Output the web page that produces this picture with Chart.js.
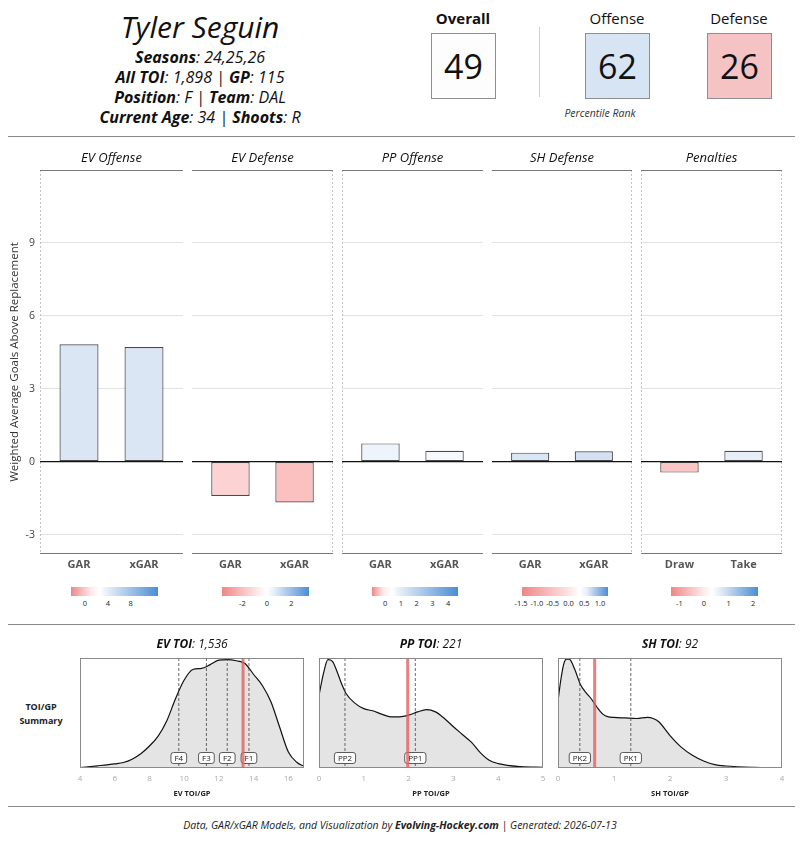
<!DOCTYPE html>
<html>
<head>
<meta charset="utf-8">
<script src="https://cdn.jsdelivr.net/npm/chart.js@4.4.1/dist/chart.umd.min.js"></script>
<style>
  body { margin: 0; background: #fff; font-family: "Open Sans", sans-serif; color: #111; }
  #page { position: relative; width: 800px; height: 850px; overflow: hidden; }
  .abs { position: absolute; }
  canvas { position: absolute; }
  .hline { position: absolute; left: 8px; width: 787px; height: 1px; background: #8a8a8a; }
  #info { left: 0; width: 400px; text-align: center; }
  #info .name { font-size: 30px; font-style: italic; line-height: 34px; margin-top: 10px; margin-bottom: 3px; }
  #info .ln { font-size: 16px; font-style: italic; line-height: 20px; }
  #info b { font-weight: 700; }
  .scoreLbl { top: 8px; width: 100px; text-align: center; font-size: 15px; line-height: 20px; }
  .scoreBox { top: 33px; width: 63px; height: 64px; border: 1px solid #8e8e8e; text-align: center;
              font-size: 34px; line-height: 64px; }
  .cb { top: 587px; height: 9px; }
  .cbt { top: 598px; font-size: 7.5px; color: #222; transform: translateX(-50%); white-space: nowrap; }
  #footer { top: 818px; left: 0; width: 800px; text-align: center; font-size: 10.5px; font-style: italic; color: #222; }
  #sumLbl { left: 14px; top: 700px; width: 54px; text-align: center; font-size: 9px; font-weight: 700; line-height: 14px; color: #222; }
</style>
</head>
<body>
<div id="page">
  <div id="info" class="abs"></div>
  <div id="scores"></div>
  <div class="abs" style="left:539px;top:27px;width:1px;height:70px;background:#cfcfcf"></div>
  <div class="abs" style="left:540px;top:106px;width:120px;text-align:center;font-size:10.5px;font-style:italic;color:#333">Percentile Rank</div>
  <div class="hline" style="top:136px"></div>

  <canvas id="bar0"></canvas>
  <canvas id="bar1"></canvas>
  <canvas id="bar2"></canvas>
  <canvas id="bar3"></canvas>
  <canvas id="bar4"></canvas>
  <div id="colorbars"></div>

  <div class="hline" style="top:624px"></div>
  <div id="sumLbl" class="abs">TOI/GP<br>Summary</div>
  <canvas id="dens0"></canvas>
  <canvas id="dens1"></canvas>
  <canvas id="dens2"></canvas>

  <div class="hline" style="top:806px"></div>
  <div id="footer" class="abs">Data, GAR/xGAR Models, and Visualization by <b>Evolving-Hockey.com</b> | Generated: 2026-07-13</div>
</div>

<script>
// ---- header data ----
const playerName = "Tyler Seguin";
const infoLines = [
  [["Seasons", ": 24,25,26"]],
  [["All TOI", ": 1,898 | "], ["GP", ": 115"]],
  [["Position", ": F | "], ["Team", ": DAL"]],
  [["Current Age", ": 34 | "], ["Shoots", ": R"]]
];
const scoreLabels = ["Overall", "Offense", "Defense"];
const scoreValues = [49, 62, 26];

// ---- GAR panels ----
const panelTitles = ["EV Offense", "EV Defense", "PP Offense", "SH Defense", "Penalties"];
const barLabels = [["GAR", "xGAR"], ["GAR", "xGAR"], ["GAR", "xGAR"], ["GAR", "xGAR"], ["Draw", "Take"]];
const evOffense = [4.83, 4.72];
const evDefense = [-1.41, -1.68];
const ppOffense = [0.75, 0.45];
const shDefense = [0.37, 0.43];
const penalties = [-0.45, 0.45];
const yTicks = [-3, 0, 3, 6, 9];

// colour-bar legends under each panel
const cbTicks = [[0, 4, 8], [-2, 0, 2], [0, 1, 2, 3, 4], [-1.5, -1.0, -0.5, 0.0, 0.5, 1.0], [-1, 0, 1, 2]];
const cbTickText = [["0", "4", "8"], ["-2", "0", "2"], ["0", "1", "2", "3", "4"],
                    ["-1.5", "-1.0", "-0.5", "0.0", "0.5", "1.0"], ["-1", "0", "1", "2"]];

// ---- TOI/GP density panels ----
const densTitles = [["EV TOI", ": 1,536"], ["PP TOI", ": 221"], ["SH TOI", ": 92"]];
const densAxisTitles = ["EV TOI/GP", "PP TOI/GP", "SH TOI/GP"];
const evX = [4, 5, 6, 6.5, 7, 7.5, 8, 8.5, 9, 9.5, 10, 10.5, 11, 11.5, 12, 12.5, 13, 13.5, 14, 14.5, 15, 15.5, 16, 16.5, 16.9];
const evY = [0.004, 0.02, 0.038, 0.05, 0.08, 0.13, 0.2, 0.29, 0.43, 0.63, 0.8, 0.895, 0.905, 0.94, 0.98, 0.985, 0.975, 0.95, 0.85, 0.75, 0.6, 0.37, 0.145, 0.05, 0.015];
const ppX = [0, 0.1, 0.2, 0.3, 0.4, 0.5, 0.6, 0.8, 1.0, 1.2, 1.4, 1.6, 1.8, 2.0, 2.2, 2.4, 2.6, 2.8, 3.0, 3.2, 3.4, 3.6, 3.8, 4.0, 4.5, 5.0];
const ppY = [0.66, 0.86, 0.985, 0.97, 0.88, 0.77, 0.68, 0.59, 0.54, 0.52, 0.49, 0.465, 0.465, 0.48, 0.51, 0.53, 0.51, 0.45, 0.375, 0.305, 0.235, 0.14, 0.07, 0.04, 0.012, 0.006];
const shX = [0, 0.05, 0.1, 0.15, 0.2, 0.3, 0.4, 0.5, 0.6, 0.7, 0.8, 0.9, 1.0, 1.2, 1.4, 1.6, 1.7, 1.8, 2.0, 2.2, 2.4, 2.6, 2.8, 3.0, 3.5, 4.0];
const shY = [0.61, 0.8, 0.94, 0.99, 0.99, 0.895, 0.76, 0.685, 0.625, 0.55, 0.49, 0.465, 0.46, 0.455, 0.45, 0.46, 0.45, 0.42, 0.295, 0.19, 0.115, 0.063, 0.03, 0.018, 0.006, 0.002];
const evTicks = [4, 6, 8, 10, 12, 14, 16];
const ppTicks = [0, 1, 2, 3, 4, 5];
const shTicks = [0, 1, 2, 3, 4];
const evRoles = ["F4", "F3", "F2", "F1"];
const evRoleX = [9.69, 11.28, 12.48, 13.73];
const ppRoles = ["PP2", "PP1"];
const ppRoleX = [0.58, 2.15];
const shRoles = ["PK2", "PK1"];
const shRoleX = [0.39, 1.30];
const evPlayer = 13.39;
const ppPlayer = 1.98;
const shPlayer = 0.655;

// ---- layout / styles ----
const FONT = '"Open Sans", sans-serif';
const panelBox = [[40, 183], [192, 333], [342, 483], [492, 632], [641, 782]];
const panelDash = [[true, false], [false, true], [true, false], [false, true], [true, true]];
const barColors = [["#dae6f4", "#dbe6f4"], ["#fdd2d2", "#fbc0c0"], ["#eef4fb", "#f6f9fd"], ["#d9e6f5", "#d2e1f3"], ["#fac6c6", "#e6eef8"]];
const cbBox = [[71, 157.7, -2.45, 12.73, 0.33], [222, 309, -3.67, 3.43, 0.51], [372, 458, -0.83, 4.63, 0.23],
               [521.7, 607.7, -1.48, 1.24, 0.67], [671, 757.7, -1.34, 2.18, 0.47]];
const densBox = [[80, 304], [319, 543], [558, 782]];
const scoreX = [463, 617, 739];
const scoreBg = ["#fdfdfd", "#d6e4f4", "#f5c3c4"];

// ---- header ----
const info = document.getElementById("info");
info.innerHTML = `<div class="name">${playerName}</div>` +
  infoLines.map(parts => `<div class="ln">${parts.map(p => `<b>${p[0]}</b>${p[1]}`).join("")}</div>`).join("");
document.getElementById("scores").innerHTML = scoreLabels.map((lbl, i) => `
  <div class="abs scoreLbl" style="left:${scoreX[i] - 50}px;font-weight:${i === 0 ? 700 : 400}">${lbl}</div>
  <div class="abs scoreBox" style="left:${scoreX[i] - 32}px;background:${scoreBg[i]}">${scoreValues[i]}</div>
`).join("");

// colour bars
document.getElementById("colorbars").innerHTML = cbBox.map((b, i) => {
  const [l, r, vmin, vmax, w] = b;
  const grad = `linear-gradient(to right, #f08686 0%, #fde9e9 ${(w - 0.1) * 100}%, #ffffff ${w * 100}%, #e8f0f9 ${(w + 0.08) * 100}%, #4b8dd3 100%)`;
  let html = `<div class="abs cb" style="left:${l}px;width:${r - l}px;background:${grad}"></div>`;
  cbTicks[i].forEach((v, k) => {
    const x = l + (v - vmin) / (vmax - vmin) * (r - l);
    html += `<div class="abs cbt" style="left:${x}px">${cbTickText[i][k]}</div>`;
  });
  return html;
}).join("");

// ---- plugins ----
function drawRichTitle(ctx, parts, cx, cy, size) {
  ctx.save();
  ctx.textBaseline = "middle";
  ctx.fillStyle = "#111";
  const fonts = parts.map(p => `italic ${p.bold ? 700 : 400} ${size}px ${FONT}`);
  let total = 0;
  const widths = parts.map((p, i) => { ctx.font = fonts[i]; const w = ctx.measureText(p.text).width; total += w; return w; });
  let x = cx - total / 2;
  parts.forEach((p, i) => { ctx.font = fonts[i]; ctx.textAlign = "left"; ctx.fillText(p.text, x, cy); x += widths[i]; });
  ctx.restore();
}

const panelDeco = {
  id: "panelDeco",
  beforeDatasetsDraw(chart, args, opts) {
    if (!opts || !opts.on) return;
    const { ctx, chartArea: a } = chart;
    ctx.save();
    ctx.strokeStyle = "#c4c4c4";
    ctx.lineWidth = 1;
    ctx.setLineDash([2, 2]);
    if (opts.dashLeft) { ctx.beginPath(); ctx.moveTo(a.left + 0.5, a.top); ctx.lineTo(a.left + 0.5, a.bottom); ctx.stroke(); }
    if (opts.dashRight) { ctx.beginPath(); ctx.moveTo(a.right - 0.5, a.top); ctx.lineTo(a.right - 0.5, a.bottom); ctx.stroke(); }
    ctx.setLineDash([]);
    ctx.strokeStyle = "#777";
    ctx.beginPath();
    ctx.moveTo(a.left, a.top + 0.5); ctx.lineTo(a.right, a.top + 0.5);
    ctx.moveTo(a.left, a.bottom - 0.5); ctx.lineTo(a.right, a.bottom - 0.5);
    ctx.stroke();
    ctx.restore();
  },
  afterDatasetsDraw(chart, args, opts) {
    if (!opts || !opts.on) return;
    const { ctx, chartArea: a, scales } = chart;
    const y0 = scales.y.getPixelForValue(0);
    ctx.save();
    ctx.strokeStyle = "#111";
    ctx.lineWidth = 1.3;
    ctx.beginPath(); ctx.moveTo(a.left, y0); ctx.lineTo(a.right, y0); ctx.stroke();
    ctx.restore();
    drawRichTitle(ctx, [{ text: opts.title, bold: false }], (a.left + a.right) / 2, a.top - 12, 13);
  }
};

const densDeco = {
  id: "densDeco",
  afterDatasetsDraw(chart, args, opts) {
    if (!opts || !opts.on) return;
    const { ctx, chartArea: a, scales } = chart;
    ctx.save();
    // role reference lines
    ctx.strokeStyle = "#444";
    ctx.lineWidth = 0.8;
    ctx.setLineDash([3, 2]);
    opts.roleX.forEach(v => {
      const x = scales.x.getPixelForValue(v);
      ctx.beginPath(); ctx.moveTo(x, a.top); ctx.lineTo(x, a.bottom); ctx.stroke();
    });
    ctx.setLineDash([]);
    // role labels
    ctx.font = `8px ${FONT}`;
    ctx.textAlign = "center";
    ctx.textBaseline = "middle";
    opts.roles.forEach((r, i) => {
      const x = scales.x.getPixelForValue(opts.roleX[i]);
      const w = ctx.measureText(r).width + 7;
      const y = a.bottom - 10;
      ctx.fillStyle = "#fff";
      ctx.strokeStyle = "#333";
      ctx.lineWidth = 0.8;
      ctx.beginPath();
      ctx.roundRect(x - w / 2, y - 5.5, w, 11, 2.5);
      ctx.fill(); ctx.stroke();
      ctx.fillStyle = "#222";
      ctx.fillText(r, x, y + 0.5);
    });
    // player line
    const px = scales.x.getPixelForValue(opts.player);
    ctx.strokeStyle = "rgba(230, 95, 95, 0.8)";
    ctx.lineWidth = 3;
    ctx.beginPath(); ctx.moveTo(px, a.top); ctx.lineTo(px, a.bottom); ctx.stroke();
    // panel frame
    ctx.strokeStyle = "#8a8a8a";
    ctx.lineWidth = 1;
    ctx.strokeRect(a.left + 0.5, a.top + 0.5, a.right - a.left - 1, a.bottom - a.top - 1);
    ctx.restore();
    drawRichTitle(ctx, [{ text: opts.title[0], bold: true }, { text: opts.title[1], bold: false }],
      (a.left + a.right) / 2, a.top - 13, 12);
  }
};
Chart.register(panelDeco, densDeco);

// ---- GAR bar panels ----
function barPanel(i, values) {
  const el = document.getElementById("bar" + i);
  const showY = i === 0;
  const [l, r] = panelBox[i];
  const left = showY ? 0 : l - 4;
  const w = r + 4 - left;
  el.width = w; el.height = 434;
  el.style.left = left + "px"; el.style.top = "140px";
  const labels = barLabels[i];
  new Chart(el, {
    type: "bar",
    data: {
      datasets: [{
        data: values.map((v, k) => ({ x: k + 1, y: v })),
        backgroundColor: barColors[i],
        borderColor: "#4a4a4a",
        borderWidth: 1.2,
        borderSkipped: false,
        barPercentage: 0.6,
        categoryPercentage: 1
      }]
    },
    options: {
      responsive: false,
      animation: false,
      layout: { padding: { top: 30, left: showY ? 0 : 4, right: 4, bottom: 0 } },
      plugins: {
        legend: { display: false },
        tooltip: { enabled: false },
        panelDeco: { on: true, title: panelTitles[i], dashLeft: panelDash[i][0], dashRight: panelDash[i][1] }
      },
      scales: {
        x: {
          type: "linear", min: 0.4, max: 2.6, offset: false,
          afterBuildTicks: s => { s.ticks = labels.map((_, k) => ({ value: k + 1 })); },
          afterFit: s => { s.height = 20; },
          ticks: { callback: v => labels[v - 1], color: "#555", padding: 4, font: { family: FONT, size: 11, weight: "bold" } },
          grid: { display: false, drawTicks: false, offset: false },
          border: { display: false }
        },
        y: {
          min: -3.8, max: 12,
          afterBuildTicks: s => { s.ticks = yTicks.map(v => ({ value: v })); },
          afterFit: s => { s.width = showY ? 40 : 0; },
          ticks: { display: showY, color: "#444", padding: 5, font: { family: FONT, size: 10.5 } },
          grid: { color: c => c.tick && c.tick.value === 0 ? "rgba(0,0,0,0)" : "#dadada", lineWidth: 0.8, drawTicks: false },
          border: { display: false },
          title: { display: showY, text: "Weighted Average Goals Above Replacement", color: "#333",
                   padding: { top: 8, bottom: 0 }, font: { family: FONT, size: 11.5 } }
        }
      }
    }
  });
}
[evOffense, evDefense, ppOffense, shDefense, penalties].forEach((vals, i) => barPanel(i, vals));

// ---- density panels ----
function densPanel(i, xs, ys, ticks, roles, roleX, player) {
  const el = document.getElementById("dens" + i);
  const [l, r] = densBox[i];
  el.width = r - l + 20; el.height = 166;
  el.style.left = (l - 10) + "px"; el.style.top = "632px";
  new Chart(el, {
    type: "line",
    data: {
      datasets: [{
        data: xs.map((x, k) => ({ x: x, y: ys[k] })),
        borderColor: "#111",
        borderWidth: 1.2,
        backgroundColor: "#e4e4e4",
        fill: "origin",
        pointRadius: 0,
        cubicInterpolationMode: "monotone"
      }]
    },
    options: {
      responsive: false,
      animation: false,
      layout: { padding: { top: 26, left: 10, right: 10, bottom: 0 } },
      plugins: {
        legend: { display: false },
        tooltip: { enabled: false },
        densDeco: { on: true, title: densTitles[i], roles: roles, roleX: roleX, player: player }
      },
      scales: {
        x: {
          type: "linear", min: ticks[0], max: xs[xs.length - 1],
          afterBuildTicks: s => { s.ticks = ticks.map(v => ({ value: v })); },
          afterFit: s => { s.height = 30; },
          ticks: { color: "#aaa", padding: 6, font: { family: FONT, size: 8 } },
          grid: { display: false, drawTicks: false },
          border: { display: false },
          title: { display: true, text: densAxisTitles[i], color: "#222", padding: { top: 1, bottom: 0 },
                   font: { family: FONT, size: 7.5, weight: "bold" } }
        },
        y: { display: false, min: 0, max: 1.0 }
      }
    }
  });
}
densPanel(0, evX, evY, evTicks, evRoles, evRoleX, evPlayer);
densPanel(1, ppX, ppY, ppTicks, ppRoles, ppRoleX, ppPlayer);
densPanel(2, shX, shY, shTicks, shRoles, shRoleX, shPlayer);
</script>
</body>
</html>
